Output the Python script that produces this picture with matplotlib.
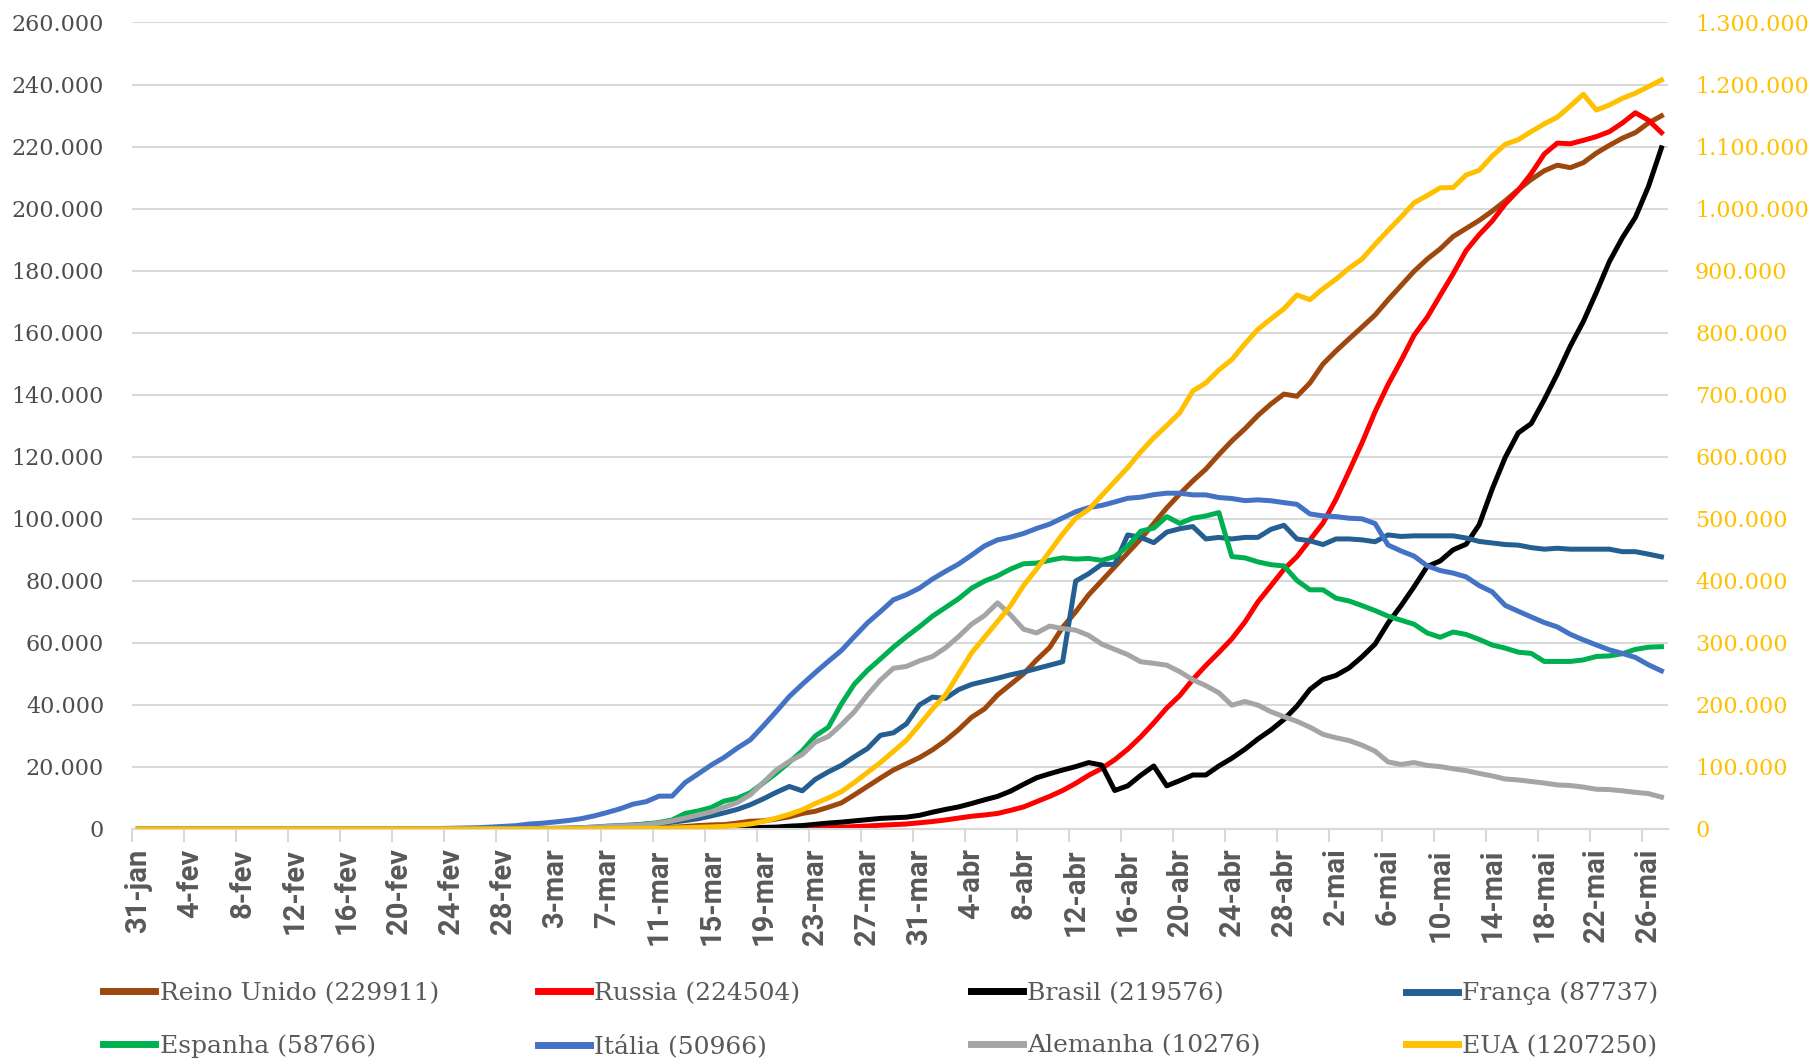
import matplotlib.pyplot as plt
import numpy as np
import pandas as pd
from matplotlib.lines import Line2D
from matplotlib.ticker import FuncFormatter

# casos ativos (milhares), 31-jan a 27-mai; os 20 primeiros dias sao zero
inicio = "2020-01-31"
meses = ["jan", "fev", "mar", "abr", "mai"]
zeros = [0.0] * 20

reino_unido = zeros + [
    0, 0, 0, 0, 0, 0, 0, 0, 0, 0,
    0.03, 0.04, 0.05, 0.08, 0.1, 0.15, 0.2, 0.25, 0.3, 0.35,
    0.42, 0.55, 0.78, 1.1, 1.3, 1.4, 1.9, 2.5, 2.6, 3.2,
    3.9, 5.0, 5.7, 7.0, 8.4, 11.0, 13.7, 16.4, 19.0, 21.0,
    23.0, 25.5, 28.5, 32.0, 36.0, 38.7, 43.2, 46.6, 50.0, 54.5,
    58.5, 65.0, 70.0, 75.5, 80.0, 84.5, 89.0, 93.5, 98.5, 103.5,
    108.0, 112.2, 116.0, 120.7, 125.1, 129.0, 133.3, 137.0, 140.2, 139.5,
    143.8, 149.9, 154.1, 158.0, 161.8, 165.7, 170.6, 175.2, 179.8, 183.7,
    187.0, 191.0, 193.6, 196.2, 199.2, 202.5, 206.1, 209.4, 212.2, 214.0,
    213.2, 214.8, 217.9, 220.4, 222.7, 224.5, 227.6, 229.911]

russia = zeros + [
    0, 0, 0, 0, 0, 0, 0, 0, 0, 0,
    0, 0, 0, 0, 0, 0, 0, 0, 0, 0,
    0.02, 0.03, 0.04, 0.05, 0.06, 0.05, 0.08, 0.1, 0.13, 0.18,
    0.22, 0.28, 0.35, 0.42, 0.6, 0.75, 0.95, 1.2, 1.4, 1.6,
    2.0, 2.4, 2.9, 3.5, 4.1, 4.5, 5.0, 6.0, 7.1, 8.8,
    10.5, 12.4, 14.7, 17.3, 19.5, 22.3, 25.7, 29.7, 34.2, 39.0,
    43.0, 48.2, 52.7, 56.9, 61.3, 66.7, 73.2, 78.4, 83.7, 87.8,
    93.2, 98.6, 106.3, 115.3, 124.5, 134.5, 143.3, 151.0, 159.2, 164.9,
    172.0, 179.0, 186.5, 191.6, 196.0, 201.5, 205.9, 211.3, 217.6, 221.1,
    220.9, 222.0, 223.2, 224.8, 227.6, 230.9, 228.5, 224.504]

brasil = zeros + [
    0, 0, 0, 0, 0, 0, 0, 0, 0, 0,
    0, 0, 0, 0, 0, 0, 0, 0, 0, 0,
    0, 0, 0, 0, 0, 0.1, 0.2, 0.3, 0.5, 0.6,
    0.9, 1.1, 1.5, 1.9, 2.2, 2.6, 3.0, 3.4, 3.6, 3.8,
    4.4, 5.4, 6.3, 7.1, 8.2, 9.4, 10.5, 12.2, 14.4, 16.5,
    17.8, 19.0, 20.1, 21.4, 20.6, 12.4, 13.9, 17.3, 20.3, 13.9,
    15.6, 17.4, 17.4, 20.3, 22.8, 25.7, 29.0, 31.9, 35.3, 39.6,
    45.0, 48.2, 49.5, 51.9, 55.5, 59.6, 66.4, 72.0, 78.1, 84.6,
    86.4, 90.0, 91.8, 98.1, 109.6, 119.8, 127.7, 130.7, 138.4, 146.7,
    155.7, 163.6, 173.0, 182.9, 190.6, 197.2, 207.1, 219.576]

franca = zeros + [
    0, 0, 0, 0, 0, 0, 0, 0, 0, 0,
    0.1, 0.15, 0.2, 0.25, 0.4, 0.6, 0.9, 1.1, 1.3, 1.6,
    1.7, 2.2, 2.7, 3.3, 4.2, 5.2, 6.3, 7.8, 9.7, 11.8,
    13.7, 12.3, 16.0, 18.4, 20.5, 23.3, 25.9, 30.2, 31.0, 33.9,
    40.0, 42.5, 42.1, 44.9, 46.6, 47.6, 48.6, 49.7, 50.6, 51.7,
    52.8, 53.9, 79.9, 82.3, 85.3, 85.3, 94.8, 94.0, 92.3, 95.7,
    96.8, 97.5, 93.5, 94.0, 93.5, 94.0, 94.0, 96.6, 97.9, 93.5,
    92.9, 91.7, 93.5, 93.5, 93.2, 92.6, 94.8, 94.3, 94.5, 94.5,
    94.5, 94.5, 93.8, 92.7, 92.2, 91.7, 91.5, 90.7, 90.2, 90.5,
    90.2, 90.2, 90.2, 90.2, 89.4, 89.4, 88.6, 87.737]

espanha = zeros + [
    0, 0, 0, 0, 0, 0, 0, 0, 0, 0,
    0.08, 0.11, 0.15, 0.2, 0.25, 0.35, 0.5, 0.6, 1.0, 1.6,
    2.1, 2.9, 5.0, 5.8, 6.9, 9.0, 9.9, 11.7, 14.8, 18.0,
    21.5, 25.2, 30.0, 32.8, 40.3, 46.7, 51.1, 54.8, 58.6, 62.0,
    65.2, 68.6, 71.4, 74.2, 77.6, 79.9, 81.6, 83.8, 85.5, 85.7,
    86.6, 87.4, 87.0, 87.2, 86.6, 87.8, 91.1, 96.0, 97.0, 100.7,
    98.5, 100.2, 100.9, 102.0, 87.8, 87.4, 86.1, 85.2, 84.8, 80.1,
    77.1, 77.1, 74.4, 73.5, 72.0, 70.4, 68.6, 67.3, 66.0, 63.2,
    61.8, 63.5, 62.7, 61.1, 59.3, 58.3, 57.0, 56.6, 54.0, 54.0,
    54.0, 54.5, 55.6, 55.8, 56.5, 57.9, 58.6, 58.766]

italia = zeros + [
    0.003, 0.02, 0.08, 0.15, 0.22, 0.31, 0.39, 0.59, 0.82, 1.05,
    1.58, 1.84, 2.26, 2.71, 3.3, 4.2, 5.3, 6.5, 8.0, 8.8,
    10.59, 10.59, 14.96, 17.75, 20.6, 23.07, 26.06, 28.71, 33.19, 37.86,
    42.68, 46.64, 50.42, 54.03, 57.52, 62.01, 66.41, 70.07, 73.88, 75.53,
    77.64, 80.57, 83.05, 85.39, 88.27, 91.25, 93.19, 94.07, 95.26, 96.88,
    98.27, 100.27, 102.25, 103.62, 104.29, 105.42, 106.61, 106.96, 107.77, 108.26,
    108.24, 107.71, 107.70, 106.85, 106.53, 105.85, 106.10, 105.81, 105.21, 104.66,
    101.55, 100.94, 100.70, 100.18, 99.98, 98.47, 91.53, 89.62, 87.96, 84.84,
    83.32, 82.49, 81.27, 78.46, 76.44, 72.07, 70.19, 68.35, 66.55, 65.13,
    62.75, 60.96, 59.32, 57.75, 56.59, 55.30, 52.94, 50.966]

alemanha = zeros + [
    0, 0, 0, 0, 0, 0, 0, 0, 0, 0,
    0.1, 0.15, 0.2, 0.25, 0.4, 0.6, 0.8, 1.0, 1.1, 1.4,
    1.9, 2.6, 3.5, 4.5, 5.5, 7.0, 8.5, 11.0, 15.0, 19.0,
    21.8, 24.0, 28.0, 29.8, 33.6, 37.8, 43.2, 48.0, 51.8, 52.4,
    54.2, 55.6, 58.4, 62.0, 66.0, 68.8, 72.9, 69.0, 64.4, 63.2,
    65.4, 64.6, 64.1, 62.4, 59.6, 57.9, 56.2, 53.9, 53.4, 52.8,
    50.7, 48.1, 46.2, 43.9, 39.9, 41.1, 39.9, 37.8, 36.2, 34.7,
    32.8, 30.5, 29.4, 28.5, 27.0, 25.1, 21.6, 20.8, 21.4, 20.5,
    20.1, 19.4, 18.8, 17.9, 17.1, 16.1, 15.8, 15.3, 14.8, 14.2,
    14.0, 13.5, 12.8, 12.7, 12.3, 11.8, 11.4, 10.276]

eua = zeros + [
    0, 0, 0, 0, 0, 0, 0, 0, 0, 0,
    0.05, 0.07, 0.1, 0.15, 0.2, 0.3, 0.4, 0.5, 0.6, 0.9,
    1.2, 1.6, 2.0, 2.7, 3.3, 4.2, 5.8, 8.0, 12.0, 17.5,
    23.5, 31.0, 41.0, 50.0, 60.0, 75.0, 91.0, 107.0, 125.0, 143.0,
    168.0, 193.5, 216.0, 250.0, 283.7, 309.0, 334.5, 360.0, 392.5, 419.0,
    447.0, 475.5, 500.8, 515.0, 537.5, 560.0, 582.6, 608.0, 630.5, 650.3,
    671.0, 706.0, 719.0, 739.8, 756.7, 782.0, 805.3, 822.2, 838.4, 860.8,
    853.1, 870.8, 886.2, 903.9, 918.6, 942.4, 964.8, 986.4, 1009.5, 1021.0,
    1033.5, 1034.0, 1054.2, 1061.7, 1084.7, 1103.6, 1111.0, 1124.2, 1136.6, 1147.3,
    1165.4, 1184.3, 1158.8, 1167.0, 1177.7, 1186.0, 1196.6, 1207.25]

nomes = ["Reino Unido", "Russia", "Brasil", "França", "Espanha", "Itália", "Alemanha", "EUA"]
series = [reino_unido, russia, brasil, franca, espanha, italia, alemanha, eua]
cores = ["#9E480E", "#FF0000", "#000000", "#255E91", "#00B050", "#4472C4", "#A5A5A5", "#FFC000"]

datas = pd.date_range(inicio, periods=len(eua))
x = np.arange(len(datas))
rotulos = [f"{d.day}-{meses[d.month - 1]}" for d in datas]

cinza = "#595959"
grade = "#D9D9D9"

fig = plt.figure(figsize=(18.12, 10.61), dpi=100)
ax = fig.add_axes([0.0728, 0.2187, 0.8477, 0.7601])
ax2 = ax.twinx()

handles = []
for nome, valores, cor in zip(nomes, series, cores):
    v = np.array(valores) * 1000
    alvo = ax2 if nome == "EUA" else ax
    alvo.plot(x, v, color=cor, lw=3.6, solid_joinstyle="round")
    handles.append(Line2D([], [], color=cor, lw=5))

pontos = FuncFormatter(lambda v, p: f"{int(v):,}".replace(",", "."))

ax.set_xlim(-0.5, len(x) - 0.5)
ax.set_ylim(0, 260000)
ax.set_yticks(np.arange(0, 260001, 20000))
ax.yaxis.set_major_formatter(pontos)
ax.grid(axis="y", color=grade, lw=1.5)
ax.set_axisbelow(True)
ax2.set_ylim(0, 1300000)
ax2.set_yticks(np.arange(0, 1300001, 100000))
ax2.yaxis.set_major_formatter(pontos)

ax.set_xticks(x[::4])
ax.set_xticklabels(rotulos[::4], rotation=90, fontsize=21, color=cinza,
                   family="Roboto", weight="bold")
ax.set_xticks(np.arange(-0.5, len(x), 4), minor=True)
ax.tick_params(axis="x", which="major", length=0, pad=14)
ax.tick_params(axis="x", which="minor", length=9, width=1.5, color=grade)
ax.tick_params(axis="y", length=0, pad=20, labelsize=16, labelcolor="#4D4D4D")
ax2.tick_params(axis="y", length=0, pad=19.5, labelsize=16, labelcolor="#FFC000")
for lab in ax.get_yticklabels() + ax2.get_yticklabels():
    lab.set_family("DejaVu Serif")

for s in ["top", "left", "right"]:
    ax.spines[s].set_visible(False)
for s in ax2.spines.values():
    s.set_visible(False)
ax.spines["bottom"].set_color(grade)
ax.spines["bottom"].set_linewidth(1.5)

# legenda em 4 colunas, duas linhas
colunas_x = [0.057, 0.297, 0.536, 0.776]
for i, cx in enumerate(colunas_x):
    leg = fig.legend([handles[i], handles[i + 4]], [
        f"{nomes[i]} ({int(round(series[i][-1] * 1000))})",
        f"{nomes[i + 4]} ({int(round(series[i + 4][-1] * 1000))})"],
        loc="upper left", bbox_to_anchor=(cx, 0.0746), frameon=False,
        handlelength=2.08, handletextpad=0.17, labelspacing=1.19,
        borderpad=0, borderaxespad=0,
        prop={"family": "DejaVu Serif", "size": 18})
    for t in leg.get_texts():
        t.set_color(cinza)

fig.savefig("out.png", dpi=100)
